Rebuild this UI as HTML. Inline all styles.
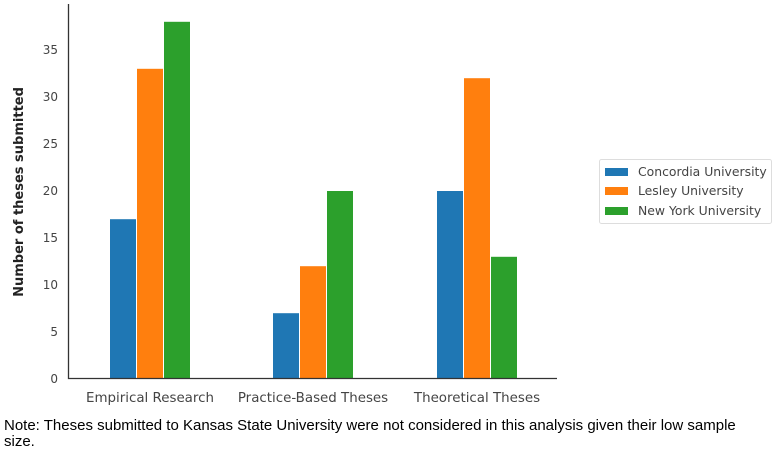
<!DOCTYPE html>
<html><head><meta charset="utf-8"><style>
body{margin:0;background:#fff;width:777px;height:451px;overflow:hidden}
svg{display:block}
text{font-family:"DejaVu Sans","Liberation Sans",sans-serif}
text.note{font-family:"Liberation Sans",Arial,sans-serif}
</style></head><body>
<svg width="777" height="451" viewBox="0 0 777 451">
<g fill="#1f77b4"><rect x="110" y="219.2" width="26" height="159.8"/><rect x="273" y="313.2" width="26" height="65.8"/><rect x="437" y="191" width="26" height="188"/></g>
<g fill="#ff7f0e"><rect x="137" y="68.8" width="26" height="310.2"/><rect x="300" y="266.2" width="26" height="112.8"/><rect x="464" y="78.2" width="26" height="300.8"/></g>
<g fill="#2ca02c"><rect x="164" y="21.8" width="26" height="357.2"/><rect x="327" y="191" width="26" height="188"/><rect x="491" y="256.8" width="26" height="122.2"/></g>
<path d="M68.5 4V378.5H557" fill="none" stroke="#333" stroke-width="1.3"/>
<g font-size="12" fill="#444" text-anchor="end">
<text x="58" y="383">0</text><text x="58" y="336">5</text><text x="58" y="289">10</text><text x="58" y="242">15</text><text x="58" y="195">20</text><text x="58" y="148">25</text><text x="58" y="101">30</text><text x="58" y="54">35</text>
</g>
<g font-size="13.4" fill="#444" text-anchor="middle">
<text x="150" y="402">Empirical Research</text><text x="313" y="402">Practice-Based Theses</text><text x="477" y="402">Theoretical Theses</text>
</g>
<text transform="translate(23,192) rotate(-90)" font-size="13" font-weight="bold" fill="#222" text-anchor="middle">Number of theses submitted</text>
<rect x="599.5" y="159.5" width="172" height="64" rx="2" fill="#fff" stroke="#ddd"/>
<rect x="605" y="168" width="23" height="8" fill="#1f77b4"/>
<rect x="605" y="187" width="23" height="8" fill="#ff7f0e"/>
<rect x="605" y="207" width="23" height="8" fill="#2ca02c"/>
<g font-size="12.4" fill="#444"><text x="638" y="176">Concordia University</text><text x="638" y="195">Lesley University</text><text x="638" y="215">New York University</text></g>
<g font-size="15" fill="#000">
<text class="note" x="4" y="430">Note: Theses submitted to Kansas State University were not considered in this analysis given their low sample</text>
<text class="note" x="4" y="446">size.</text></g>
</svg>
</body></html>
